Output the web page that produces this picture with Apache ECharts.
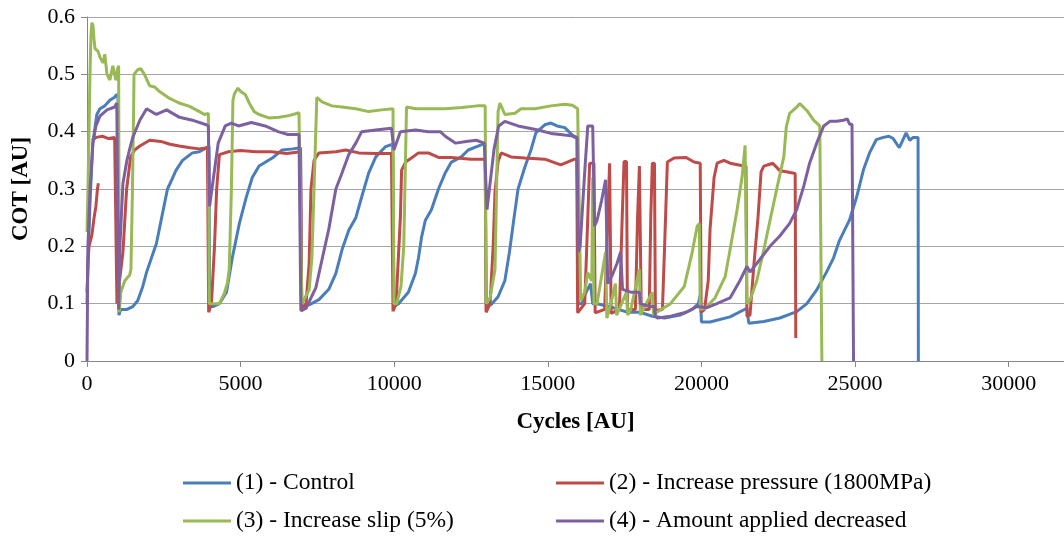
<!doctype html>
<html>
<head>
<meta charset="UTF-8">
<title>COT vs Cycles</title>
<script src="https://cdn.jsdelivr.net/npm/echarts@6/dist/echarts.min.js"></script>
<style>
  html, body { margin: 0; padding: 0; background: #fff; }
  #main { width: 1064px; height: 536px; }
</style>
</head>
<body>
<div id="main"></div>
<script type="text/javascript">
// series names (legend)
var names = ['(1) - Control', '(2) - Increase pressure (1800MPa)', '(3) - Increase slip (5%)', '(4) - Amount applied decreased'];
var xTicks = [0, 5000, 10000, 15000, 20000, 25000, 30000];
var yTicks = [0, 0.1, 0.2, 0.3, 0.4, 0.5, 0.6];

// [cycles, COT]
var control = [
  [0, 0.12], [100, 0.28], [190, 0.38], [320, 0.43], [420, 0.44], [580, 0.445], [745, 0.455], [900, 0.46], [970, 0.465], [1010, 0.46],
  [1040, 0.08], [1100, 0.09], [1300, 0.09], [1490, 0.095], [1650, 0.105], [1815, 0.13], [1940, 0.155], [2100, 0.18], [2260, 0.205],
  [2430, 0.25], [2620, 0.3], [2750, 0.315], [2900, 0.333], [3110, 0.35], [3430, 0.363], [3660, 0.365], [3890, 0.372], [3970, 0.375],
  [3990, 0.095], [4100, 0.095], [4310, 0.1], [4540, 0.12], [4730, 0.18], [4960, 0.24], [5180, 0.285], [5380, 0.32], [5600, 0.34],
  [6030, 0.354], [6350, 0.368], [6700, 0.37], [6950, 0.372],
  [6990, 0.095], [7230, 0.098], [7550, 0.107], [7870, 0.125], [8100, 0.153], [8300, 0.194], [8520, 0.228], [8750, 0.25], [8940, 0.286],
  [9170, 0.328], [9400, 0.356], [9720, 0.374], [9950, 0.378],
  [9990, 0.095], [10140, 0.1], [10460, 0.12], [10690, 0.153], [10790, 0.18], [10890, 0.216], [11010, 0.245], [11210, 0.264], [11440, 0.3],
  [11660, 0.328], [11860, 0.347], [12180, 0.356], [12410, 0.368], [12830, 0.377], [12960, 0.38],
  [12990, 0.098], [13150, 0.098], [13380, 0.112], [13600, 0.14], [13750, 0.19], [13900, 0.25], [14030, 0.3], [14250, 0.338], [14450, 0.368],
  [14610, 0.398], [14900, 0.412], [15100, 0.415], [15300, 0.41], [15550, 0.407], [15870, 0.39], [15950, 0.39],
  [15990, 0.1], [16100, 0.1], [16200, 0.115], [16390, 0.135], [16460, 0.1], [16600, 0.1], [17000, 0.095], [17300, 0.09], [17600, 0.085],
  [18000, 0.085], [18400, 0.078], [18800, 0.075], [19300, 0.08], [19700, 0.09], [19900, 0.1], [19960, 0.115],
  [20000, 0.068], [20280, 0.068], [20930, 0.077], [21480, 0.092], [21540, 0.066], [22030, 0.069], [22550, 0.075], [23100, 0.086],
  [23430, 0.1], [23750, 0.124], [24070, 0.155], [24300, 0.18], [24490, 0.21], [24820, 0.246], [25050, 0.286], [25270, 0.333],
  [25470, 0.363], [25690, 0.386], [25920, 0.39], [26100, 0.392], [26240, 0.388], [26440, 0.372], [26550, 0.385], [26660, 0.398],
  [26780, 0.385], [26890, 0.39], [27050, 0.39], [27060, 0]
];

var pressureStart = [[0, 0.1], [30, 0.17], [65, 0.2], [160, 0.22], [230, 0.25], [290, 0.27], [340, 0.3], [370, 0.31]];
var pressure = [
  [160, 0.385], [300, 0.39], [500, 0.392], [700, 0.388], [900, 0.39], [950, 0.39],
  [975, 0.1], [1060, 0.14], [1170, 0.19], [1290, 0.3], [1420, 0.356], [1550, 0.368], [1720, 0.375], [2040, 0.385], [2400, 0.383],
  [2700, 0.378], [3000, 0.375], [3360, 0.372], [3660, 0.37], [3920, 0.372],
  [3960, 0.085], [4000, 0.083], [4050, 0.1], [4150, 0.2], [4220, 0.3], [4310, 0.36], [4600, 0.365], [5000, 0.367], [5500, 0.365],
  [6000, 0.365], [6500, 0.362], [6950, 0.365],
  [6990, 0.087], [7030, 0.085], [7130, 0.1], [7230, 0.17], [7290, 0.3], [7390, 0.35], [7550, 0.363], [8100, 0.365], [8420, 0.368],
  [8850, 0.363], [9400, 0.362], [9910, 0.362],
  [9960, 0.087], [10000, 0.085], [10060, 0.1], [10200, 0.25], [10240, 0.333], [10370, 0.347], [10560, 0.354], [10790, 0.363],
  [11110, 0.363], [11440, 0.355], [11860, 0.355], [12500, 0.352], [12960, 0.352],
  [12990, 0.085], [13020, 0.083], [13120, 0.1], [13220, 0.2], [13280, 0.295], [13380, 0.348], [13480, 0.363], [13800, 0.356],
  [14250, 0.354], [14900, 0.352], [15420, 0.342], [15870, 0.352], [15940, 0.352],
  [15970, 0.084], [16200, 0.1], [16300, 0.25], [16360, 0.345], [16500, 0.345],
  [16540, 0.084], [16850, 0.09], [16950, 0.25], [17010, 0.345], [17040, 0.345],
  [17060, 0.083], [17330, 0.09], [17420, 0.25], [17480, 0.348], [17560, 0.348],
  [17590, 0.09], [17850, 0.09], [17920, 0.25], [17980, 0.34], [18010, 0.34],
  [18040, 0.09], [18300, 0.09], [18350, 0.25], [18400, 0.345], [18470, 0.345],
  [18500, 0.088], [18730, 0.09], [18800, 0.2], [18890, 0.347], [19110, 0.354], [19500, 0.355], [19760, 0.347], [19960, 0.345],
  [19990, 0.085], [20100, 0.09], [20220, 0.14], [20280, 0.23], [20410, 0.32], [20510, 0.345], [20730, 0.35], [20930, 0.345],
  [21380, 0.34], [21450, 0.34],
  [21480, 0.078], [21580, 0.08], [21710, 0.17], [21840, 0.25], [21940, 0.33], [22030, 0.34], [22320, 0.345], [22550, 0.332],
  [22760, 0.33], [23050, 0.327], [23070, 0.04]
];

var slip = [
  [0, 0.225], [32, 0.3], [65, 0.4], [97, 0.5], [130, 0.57], [160, 0.59], [195, 0.585], [230, 0.56], [260, 0.545], [360, 0.54],
  [420, 0.53], [520, 0.52], [580, 0.535], [650, 0.5], [745, 0.49], [840, 0.515], [940, 0.49], [1000, 0.51], [1030, 0.515],
  [1050, 0.085], [1100, 0.12], [1230, 0.14], [1390, 0.15], [1430, 0.16], [1480, 0.3], [1520, 0.45], [1530, 0.5], [1650, 0.508],
  [1750, 0.51], [1870, 0.5], [2040, 0.48], [2200, 0.478], [2360, 0.47], [2690, 0.458], [3000, 0.45], [3340, 0.444], [3660, 0.435],
  [3820, 0.43], [3950, 0.432],
  [3980, 0.1], [4150, 0.1], [4310, 0.1], [4470, 0.118], [4570, 0.136], [4630, 0.16], [4700, 0.3], [4750, 0.455], [4800, 0.466],
  [4910, 0.476], [5000, 0.47], [5150, 0.465], [5280, 0.45], [5440, 0.435], [5600, 0.43], [5920, 0.424], [6250, 0.425], [6570, 0.428],
  [6900, 0.433], [6960, 0.433],
  [6990, 0.1], [7230, 0.124], [7320, 0.18], [7390, 0.3], [7480, 0.46], [7650, 0.452], [7970, 0.445], [8300, 0.443], [8750, 0.44],
  [9170, 0.435], [9590, 0.438], [9960, 0.44],
  [9990, 0.1], [10080, 0.1], [10220, 0.13], [10310, 0.2], [10400, 0.443], [10690, 0.44], [11110, 0.44], [11660, 0.44], [12200, 0.442],
  [12700, 0.445], [12960, 0.445],
  [12990, 0.1], [13120, 0.11], [13280, 0.16], [13380, 0.435], [13440, 0.45], [13600, 0.43], [13930, 0.432], [14130, 0.44],
  [14580, 0.44], [15100, 0.445], [15550, 0.448], [15800, 0.446], [15970, 0.44],
  [16070, 0.105], [16200, 0.12], [16300, 0.154], [16430, 0.14], [16460, 0.32], [16500, 0.1], [16600, 0.1], [16880, 0.19],
  [16920, 0.075], [17050, 0.1], [17200, 0.135], [17240, 0.08], [17400, 0.1], [17560, 0.12], [17600, 0.08], [17700, 0.09],
  [17980, 0.16], [18010, 0.08], [18200, 0.1], [18400, 0.12], [18440, 0.08], [18570, 0.086], [18990, 0.1], [19440, 0.13],
  [19700, 0.19], [19860, 0.235], [19930, 0.24],
  [19960, 0.09], [20120, 0.092], [20440, 0.11], [20770, 0.147], [20930, 0.194], [21160, 0.264], [21320, 0.32], [21420, 0.376],
  [21450, 0.377],
  [21480, 0.1], [21580, 0.106], [21800, 0.14], [22030, 0.194], [22230, 0.245], [22450, 0.3], [22680, 0.356], [22760, 0.408],
  [22870, 0.432], [23100, 0.443], [23200, 0.449], [23430, 0.437], [23650, 0.42], [23850, 0.41], [23900, 0.41], [23920, 0]
];

var amount = [
  [0, 0], [30, 0.2], [100, 0.3], [190, 0.38], [290, 0.41], [420, 0.427], [650, 0.438], [900, 0.443], [970, 0.45], [1000, 0.45],
  [1030, 0.09], [1070, 0.2], [1170, 0.31], [1300, 0.35], [1390, 0.37], [1490, 0.39], [1720, 0.42], [1940, 0.44], [2260, 0.43],
  [2590, 0.438], [3010, 0.425], [3430, 0.42], [3880, 0.412], [3950, 0.41],
  [3990, 0.27], [4050, 0.27], [4270, 0.38], [4500, 0.41], [4700, 0.415], [4930, 0.41], [5350, 0.416], [5800, 0.41], [6220, 0.4],
  [6540, 0.395], [6900, 0.395],
  [6960, 0.088], [7130, 0.092], [7450, 0.128], [7650, 0.177], [7870, 0.23], [8100, 0.3], [8300, 0.328], [8520, 0.36], [8750, 0.38],
  [8940, 0.4], [9400, 0.403], [9910, 0.406],
  [9990, 0.368], [10200, 0.4], [10690, 0.403], [11110, 0.4], [11500, 0.4], [11660, 0.392], [12000, 0.38], [12340, 0.383],
  [12670, 0.385], [12930, 0.38],
  [13020, 0.264], [13250, 0.37], [13400, 0.41], [13600, 0.418], [14030, 0.41], [14680, 0.403], [15100, 0.397], [15550, 0.394],
  [15870, 0.392], [15950, 0.39],
  [15990, 0.19], [16050, 0.2], [16200, 0.33], [16300, 0.41], [16460, 0.41], [16520, 0.235], [16600, 0.245], [16750, 0.28],
  [16880, 0.316], [16950, 0.135], [17100, 0.15], [17250, 0.17], [17370, 0.19], [17430, 0.125], [17700, 0.12], [17980, 0.12],
  [18010, 0.1], [18300, 0.095], [18470, 0.095], [18500, 0.078], [18570, 0.075], [19000, 0.078], [19500, 0.085], [19860, 0.095],
  [20180, 0.093], [20500, 0.1], [20930, 0.11], [21250, 0.14], [21480, 0.165], [21580, 0.155], [21900, 0.177], [22230, 0.2],
  [22550, 0.218], [22870, 0.24], [23100, 0.264], [23330, 0.305], [23520, 0.345], [23750, 0.38], [23980, 0.41], [24180, 0.418],
  [24400, 0.418], [24620, 0.42], [24750, 0.422], [24820, 0.413], [24900, 0.413], [24950, 0]
];

var colors = ['#4A7EBB', '#BE4B48', '#98B954', '#7D60A0'];
var serif = '"Liberation Serif", "Times New Roman", serif';

var myChart = echarts.init(document.getElementById('main'));

function line(name, data, color) {
  return {
    name: name,
    type: 'line',
    data: data,
    showSymbol: false,
    symbol: 'none',
    color: color,
    lineStyle: { width: 3, color: color },
    emphasis: { disabled: true }
  };
}

function legendItem(name, left, top) {
  return {
    data: [name],
    left: left,
    top: top,
    padding: 0,
    icon: 'rect',
    itemWidth: 48,
    itemHeight: 3,
    itemGap: 0,
    textStyle: { fontFamily: serif, fontSize: 23.5, color: '#000' }
  };
}

var option = {
  animation: false,
  backgroundColor: '#fff',
  grid: { left: 87, top: 17, width: 982, height: 344 },
  legend: [
    legendItem(names[0], 183, 471),
    legendItem(names[1], 556, 471),
    legendItem(names[2], 183, 509),
    legendItem(names[3], 556, 509)
  ],
  xAxis: {
    type: 'value',
    min: xTicks[0],
    max: 31800,
    interval: xTicks[1] - xTicks[0],
    name: 'Cycles [AU]',
    nameLocation: 'middle',
    nameGap: 50,
    nameTextStyle: { fontFamily: serif, fontSize: 23, fontWeight: 'bold', color: '#000', verticalAlign: 'top' },
    axisLine: { show: true, lineStyle: { color: '#868686', width: 1 } },
    axisTick: { show: true, inside: false, length: 6, lineStyle: { color: '#868686' } },
    axisLabel: {
      fontFamily: serif, fontSize: 22, color: '#000', margin: 12, showMaxLabel: false,
      formatter: function (v) { return String(v); }
    },
    splitLine: { show: false }
  },
  yAxis: {
    type: 'value',
    min: yTicks[0],
    max: yTicks[yTicks.length - 1],
    interval: 0.1,
    name: 'COT [AU]',
    nameLocation: 'middle',
    nameGap: 54,
    nameTextStyle: { fontFamily: serif, fontSize: 23, fontWeight: 'bold', color: '#000' },
    axisLine: { show: true, lineStyle: { color: '#868686', width: 1 } },
    axisTick: { show: true, inside: false, length: 6, lineStyle: { color: '#868686' } },
    axisLabel: {
      fontFamily: serif, fontSize: 22, color: '#000', margin: 12,
      formatter: function (v) { return String(Math.round(v * 10) / 10); }
    },
    splitLine: { show: true, lineStyle: { color: '#A6A6A6', width: 1 } }
  },
  series: [
    line(names[0], control, colors[0]),
    line(names[1], pressureStart, colors[1]),
    line(names[1], pressure, colors[1]),
    line(names[2], slip, colors[2]),
    line(names[3], amount, colors[3])
  ]
};

myChart.setOption(option);
</script>
</body>
</html>
